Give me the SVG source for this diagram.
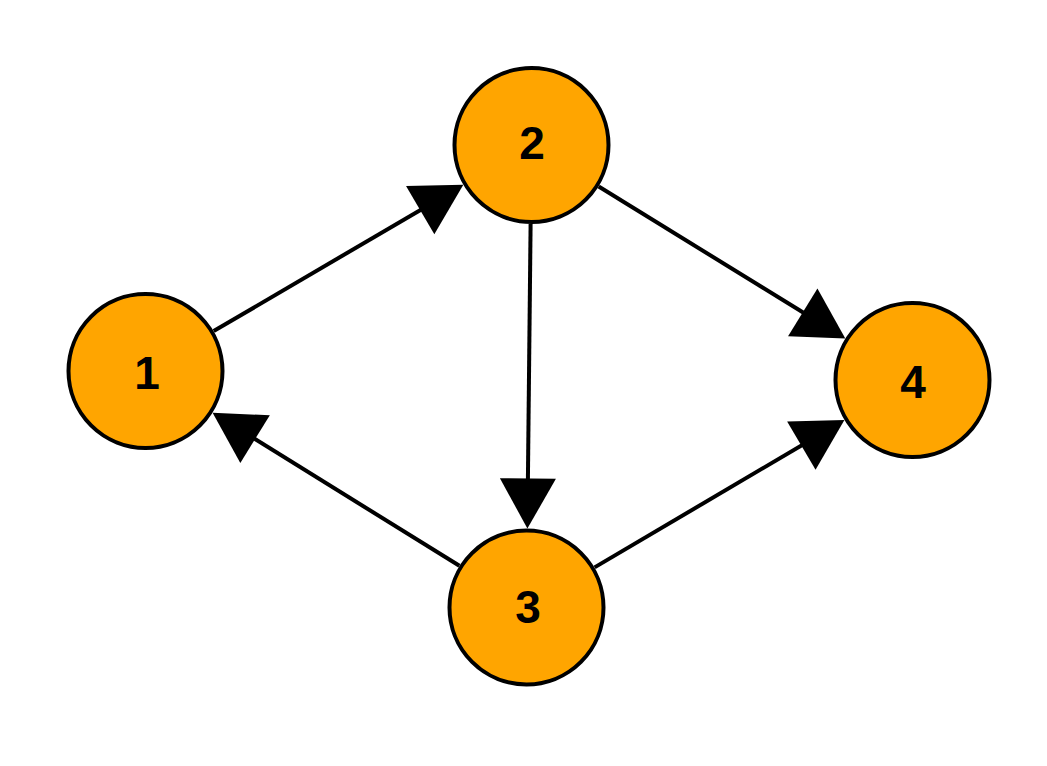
<svg xmlns="http://www.w3.org/2000/svg" width="1047" height="766" viewBox="0 0 1047 766">
<style>
.edge{stroke:#000;stroke-width:4;fill:none;marker-end:url(#arr)}
.node circle{fill:#FFA500;stroke:#000;stroke-width:4}
.node text{font-family:"Liberation Sans",Arial,sans-serif;font-weight:bold;font-size:46px;text-anchor:middle;dominant-baseline:central;fill:#000}
</style>
<defs>
<marker id="arr" markerUnits="userSpaceOnUse" markerWidth="50" markerHeight="56" refX="40" refY="28" orient="auto" overflow="visible">
<path d="M0,0 L50,28 L0,56 Z" fill="#000"/>
</marker>
</defs>
<rect width="1047" height="766" fill="#fff"/>
<g id="connectors">
<line class="edge" x1="213.7" y1="331.1" x2="454.7" y2="189.9"/>
<line class="edge" x1="530.6" y1="224" x2="527.5" y2="518.5"/>
<line class="edge" x1="598.7" y1="186.5" x2="836.8" y2="333.3"/>
<line class="edge" x1="459.4" y1="565.8" x2="221.1" y2="418"/>
<line class="edge" x1="594.6" y1="567.4" x2="835.8" y2="425.2"/>
</g>
<g id="node1" class="node"><circle cx="145.5" cy="371" r="77"/><text x="147" y="373">1</text></g>
<g id="node2" class="node"><circle cx="531.5" cy="145" r="77"/><text x="532" y="143">2</text></g>
<g id="node3" class="node"><circle cx="526.5" cy="607.5" r="77"/><text x="528" y="607">3</text></g>
<g id="node4" class="node"><circle cx="912.5" cy="380" r="77"/><text x="913" y="382">4</text></g>
</svg>
